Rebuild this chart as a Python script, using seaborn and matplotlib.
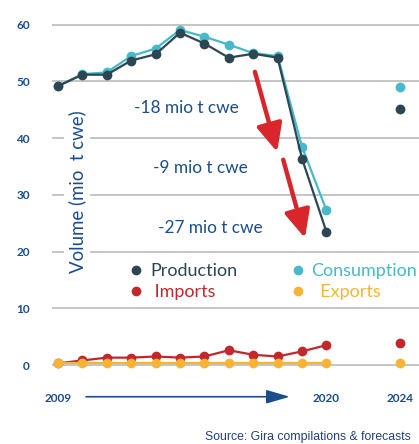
import matplotlib
matplotlib.use("Agg")
import matplotlib.pyplot as plt
from matplotlib.lines import Line2D
import seaborn as sns
import pandas as pd

# ---- data ----
years = [2009, 2010, 2011, 2012, 2013, 2014, 2015, 2016, 2017, 2018, 2019, 2020, 2024]
production = [49.2, 51.2, 51.2, 53.7, 54.8, 58.6, 56.7, 54.2, 54.9, 54.2, 36.4, 23.5, 45.2]
consumption = [49.2, 51.3, 51.6, 54.5, 55.8, 59.1, 57.9, 56.5, 55.0, 54.5, 38.5, 27.3, 49.0]
imports = [0.3, 0.8, 1.3, 1.3, 1.5, 1.3, 1.5, 2.6, 1.8, 1.5, 2.4, 3.5, 3.9]
exports = [0.4, 0.4, 0.4, 0.4, 0.4, 0.4, 0.4, 0.4, 0.4, 0.4, 0.4, 0.4, 0.4]
tick_years = ["2009", "2020", "2024"]
y_ticks = [0, 10, 20, 30, 40, 50, 60]
drops = ["-18 mio t cwe", "-9 mio t cwe", "-27 mio t cwe"]

# position of each year on the axis (2021-2023 not shown, gap kept)
positions = [y - 2009 if y <= 2020 else 14 for y in years]

C_PROD = "#2d4653"
C_CONS = "#47b9c9"
C_IMP = "#c1272d"
C_EXP = "#f6b436"
C_BLUE = "#1b4d8c"
C_RED = "#d8262c"

rows = []
for name, vals in [("Production", production), ("Consumption", consumption),
                   ("Imports", imports), ("Exports", exports)]:
    for yr, p, v in zip(years, positions, vals):
        rows.append({"series": name, "year": yr, "pos": p, "value": v})
df = pd.DataFrame(rows)
hist = df[df["year"] <= 2020]
fut = df[df["year"] == 2024]

sns.set_theme(style="white")
plt.rcParams["font.family"] = ["Lato", "DejaVu Sans"]

W, H = 419, 444
fig = plt.figure(figsize=(W / 100, H / 100), dpi=100)
# axes geometry in pixels
x0_px, dx_px = 58.0, 24.4   # pixel of pos 0, pixels per step
y0_px, dy_px = 365.0, 5.67  # pixel of value 0, pixels per unit
xlim = (-0.25, 15.0)
ylim = (-2.5, 62.0)
left = x0_px + xlim[0] * dx_px
right = x0_px + xlim[1] * dx_px
top = y0_px - ylim[1] * dy_px
bottom = y0_px - ylim[0] * dy_px
ax = fig.add_axes([left / W, 1 - bottom / H, (right - left) / W, (bottom - top) / H])

palette = {"Production": C_PROD, "Consumption": C_CONS, "Imports": C_IMP, "Exports": C_EXP}
order = ["Imports", "Exports", "Consumption", "Production"]
for s in order:
    d = hist[hist["series"] == s]
    sns.lineplot(data=d, x="pos", y="value", color=palette[s], lw=1.6, marker="o",
                 markersize=7, markeredgewidth=0, ax=ax, zorder=3, legend=False)
    f = fut[fut["series"] == s]
    sns.scatterplot(data=f, x="pos", y="value", color=palette[s], s=50, linewidth=0,
                    ax=ax, zorder=3, legend=False)

ax.set_xlim(*xlim)
ax.set_ylim(*ylim)
ax.set_yticks(y_ticks)
ax.set_yticklabels([str(t) for t in y_ticks])
tick_pos = [int(t) - 2009 if int(t) <= 2020 else 14 for t in tick_years]
ax.set_xticks(tick_pos)
ax.set_xticklabels(tick_years)
ax.tick_params(axis="both", length=0, labelsize=8.5, labelcolor=C_BLUE)
ax.tick_params(axis="y", pad=16)
ax.tick_params(axis="x", pad=10)
for lab in ax.get_xticklabels() + ax.get_yticklabels():
    lab.set_fontweight("bold")
ax.yaxis.grid(True, color="#b5b5b5", lw=1.1)
ax.xaxis.grid(False)
for sp in ax.spines.values():
    sp.set_visible(False)
ax.set_xlabel("")
ax.set_ylabel("")

# y-axis title inside the plot area
ax.text(0.78, 30.5, "Volume (mio  t cwe)", rotation=90, ha="center", va="center",
        fontsize=13.4, color=C_BLUE, zorder=2,
        bbox=dict(facecolor="white", edgecolor="none", pad=3))

# drop annotations
ax.text(5.25, 45.3, drops[0], ha="center", va="center", fontsize=12.4, color=C_BLUE)
ax.text(5.82, 34.7, drops[1], ha="center", va="center", fontsize=12.4, color=C_BLUE)
ax.text(6.23, 24.1, drops[2], ha="center", va="center", fontsize=12.4, color=C_BLUE)

# red arrows
for (xs, ys), (xe, ye) in [((8.07, 51.7), (8.98, 37.6)), ((9.23, 36.2), (10.12, 22.4))]:
    ax.annotate("", xy=(xe, ye), xytext=(xs, ys),
                arrowprops=dict(arrowstyle="-|>,head_length=1.4,head_width=0.65",
                                color=C_RED, lw=3.2, shrinkA=0, shrinkB=0), zorder=4)

# blue time arrow under the x axis
ax.annotate("", xy=(9.5, -5.6), xytext=(1.15, -5.6), annotation_clip=False,
            arrowprops=dict(arrowstyle="-|>,head_length=1.2,head_width=0.35",
                            color=C_BLUE, lw=1.2, shrinkA=0, shrinkB=0))

# legend
handles = [
    Line2D([], [], ls="", marker="o", color=C_PROD, markersize=7, markeredgewidth=0),
    Line2D([], [], ls="", marker="o", color=C_IMP, markersize=7, markeredgewidth=0),
    Line2D([], [], ls="", marker="o", color=C_CONS, markersize=7, markeredgewidth=0),
    Line2D([], [], ls="", marker="o", color=C_EXP, markersize=7, markeredgewidth=0),
]
labels = ["Production", " Imports", "Consumption", "  Exports"]
leg = ax.legend(handles, labels, ncol=2, frameon=False, fontsize=13,
                loc="upper left", bbox_to_anchor=(131 / W, 1 - 263 / H),
                bbox_transform=fig.transFigure, handlelength=0.6, handletextpad=0.45,
                columnspacing=3.05, labelspacing=0.3, borderpad=0, borderaxespad=0)
for txt, col in zip(leg.get_texts(), [C_PROD, C_IMP, C_CONS, C_EXP]):
    txt.set_color(col)

fig.text(205 / W, 1 - 437 / H, "Source: Gira compilations & forecasts", ha="left",
         va="center", fontsize=8.8, color="#1f3f80", family="Liberation Sans")

fig.savefig("out.png", dpi=100)
